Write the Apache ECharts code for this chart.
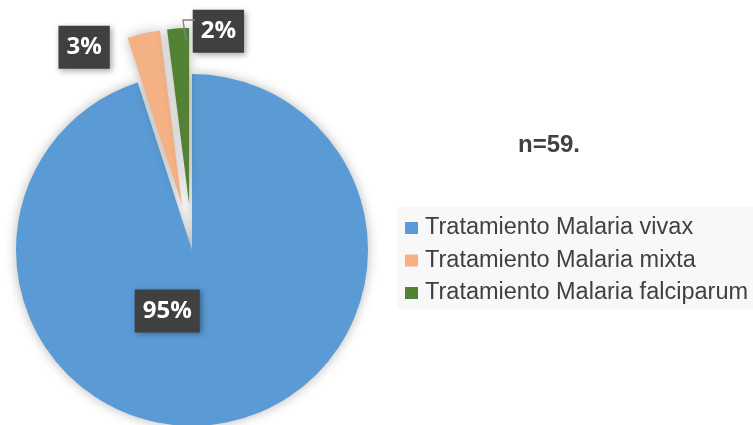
<!DOCTYPE html>
<html>
<head>
<meta charset="utf-8">
<script src="https://cdn.jsdelivr.net/npm/echarts@6/dist/echarts.min.js"></script>
<style>
  html, body { margin: 0; padding: 0; background: #fff; }
  #chart { width: 753px; height: 425px; }
</style>
</head>
<body>
<div id="chart"></div>
<script>
const categories = ['Tratamiento Malaria vivax', 'Tratamiento Malaria mixta', 'Tratamiento Malaria falciparum'];
const percents = [95, 3, 2];
const exploded = [false, true, true];

const COLORS = ['#5B9BD5', '#F4B183', '#548235'];
const TEXT = '#404040';

// label shifts from the default inside spot (moved by hand in the original)
const labelShift = [[-39, -29], [-78, -69], [35, -82]];

const chart = echarts.init(document.getElementById('chart'));

chart.setOption({
  animation: false,
  backgroundColor: '#fff',
  title: {
    text: 'n=59.',
    left: 518,
    top: 133,
    padding: 0,
    textStyle: { color: TEXT, fontSize: 24, fontWeight: 'bold', fontFamily: 'Liberation Sans' },
  },
  legend: {
    orient: 'vertical',
    left: 397,
    top: 207,
    padding: [9, 12, 4, 8],
    backgroundColor: '#f8f8f8',
    itemWidth: 13,
    itemHeight: 12,
    itemGap: 8.5,
    icon: 'rect',
    data: categories,
    textStyle: { color: TEXT, fontSize: 23.5, fontFamily: 'Liberation Sans', padding: [0, 0, 0, 2] },
  },
  graphic: {
    elements: [
      {
        // leader line of the 2% label
        type: 'polyline',
        shape: { points: [[195, 20], [183, 20], [186, 41]] },
        style: { stroke: '#7f7f7f', lineWidth: 1.3, fill: null },
        zlevel: 1,
        z: 100,
      },
    ],
  },
  series: [
    {
      type: 'pie',
      center: [192, 250],
      radius: [0, 176],
      startAngle: 90,
      clockwise: true,
      selectedMode: 'multiple',
      selectedOffset: 46,
      emphasis: { disabled: true },
      itemStyle: { shadowBlur: 12, shadowColor: 'rgba(0,0,0,0.28)', shadowOffsetX: 0, shadowOffsetY: 0 },
      label: {
        show: true,
        position: 'inside',
        overflow: 'none',
        color: '#fff',
        fontSize: 24,
        fontWeight: 'bold',
        fontFamily: 'Open Sans',
        backgroundColor: '#404040',
        padding: [10, 8, 9, 8],
        shadowBlur: 6,
        shadowColor: 'rgba(0,0,0,0.35)',
        shadowOffsetX: 2,
        shadowOffsetY: 2,
        formatter: '{c}%',
      },
      labelLine: { show: false },
      data: categories.map((name, i) => ({
        name,
        value: percents[i],
        selected: exploded[i],
        itemStyle: { color: COLORS[i] },
        label: { offset: labelShift[i] },
        select: {
          itemStyle: { color: COLORS[i] },
          label: { offset: labelShift[i], overflow: 'none', color: '#fff' },
        },
      })),
    },
  ],
});
</script>
</body>
</html>
